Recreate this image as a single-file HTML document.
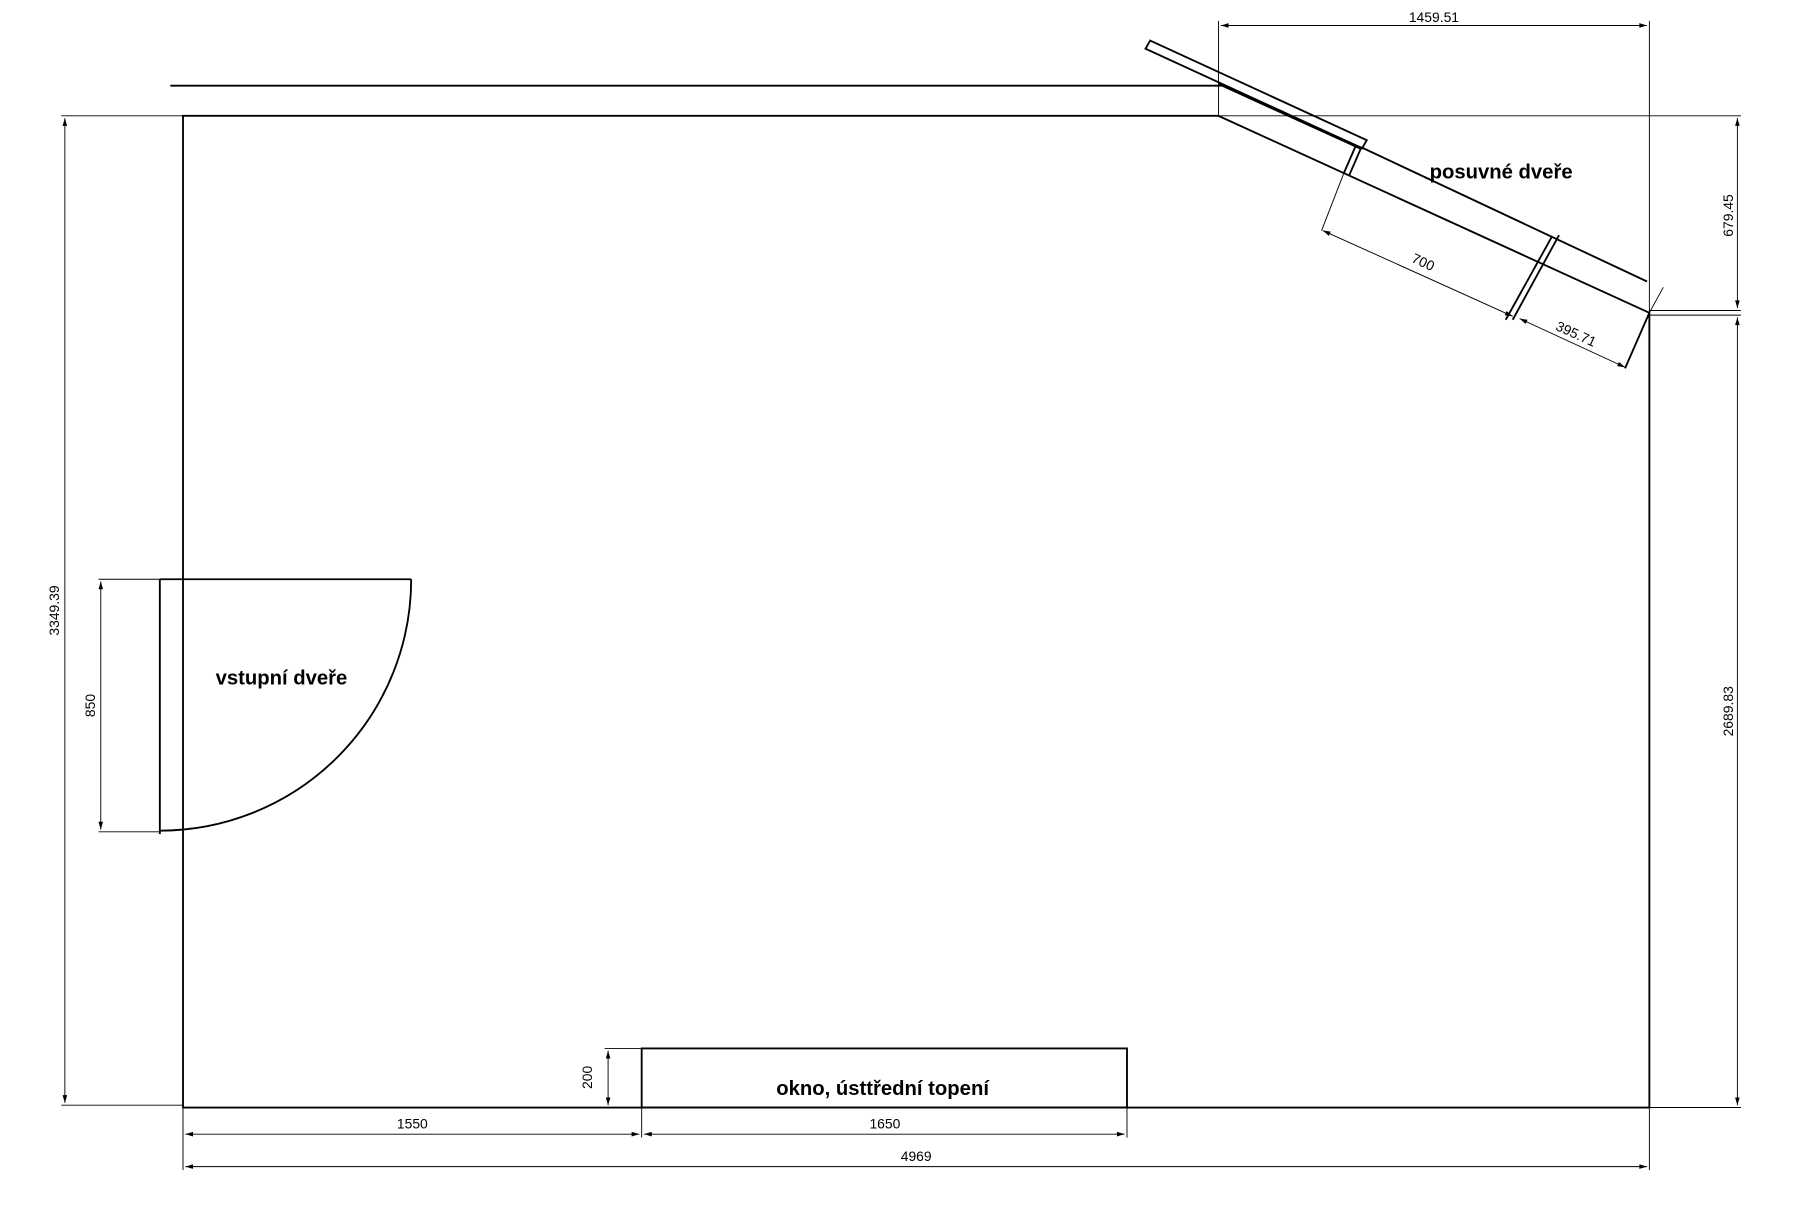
<!DOCTYPE html>
<html><head><meta charset="utf-8"><style>html,body{margin:0;padding:0;background:#fff}svg{display:block}</style></head>
<body>
<svg width="1815" height="1228" viewBox="0 0 1567 1060" preserveAspectRatio="none" xmlns="http://www.w3.org/2000/svg">
<defs>
<marker id="a" viewBox="0 0 10 6" refX="10" refY="3" markerWidth="8" markerHeight="4" orient="auto-start-reverse" markerUnits="userSpaceOnUse"><path d="M0,0 L10,3 L0,6 z" fill="#000"/></marker>
</defs>
<g fill="none" stroke="#000">
<g stroke-width="1.6">
<line x1="147" y1="74" x2="1055" y2="74"/>
<polyline points="1052,100 158,100 158,956 1424,956 1424,270 1052,100"/>
<line x1="1175" y1="127" x2="1422" y2="243"/>
<polygon points="993,35 1180,121 1176,128 989,42"/>
<line x1="1052" y1="72" x2="1175" y2="128" stroke-width="2.6"/>
<line x1="1170" y1="127" x2="1160" y2="150"/>
<line x1="1175" y1="128" x2="1165" y2="151"/>
<line x1="1346" y1="203" x2="1306" y2="276"/>
<line x1="1340" y1="204" x2="1300" y2="276"/>
<line x1="1424" y1="270" x2="1403" y2="318"/>
<line x1="138" y1="500" x2="355" y2="500"/>
<line x1="138" y1="500" x2="138" y2="720"/>
<path d="M355,500 A217,217 0 0 1 138,717"/>
<rect x="554" y="905" width="419" height="51"/>
</g>
<g stroke-width="0.8">
<line x1="1052" y1="18" x2="1052" y2="100"/>
<line x1="1424" y1="18" x2="1424" y2="270"/>
<line x1="1054" y1="22" x2="1422" y2="22" marker-start="url(#a)" marker-end="url(#a)"/>
<line x1="1052" y1="100" x2="1503" y2="100"/>
<line x1="1424" y1="268" x2="1503" y2="268"/>
<line x1="1424" y1="272" x2="1503" y2="272"/>
<line x1="1424" y1="956" x2="1503" y2="956"/>
<line x1="1500" y1="102" x2="1500" y2="266" marker-start="url(#a)" marker-end="url(#a)"/>
<line x1="1500" y1="274" x2="1500" y2="954" marker-start="url(#a)" marker-end="url(#a)"/>
<line x1="1424" y1="270" x2="1436" y2="248"/>
<line x1="1160" y1="150" x2="1141" y2="199"/>
<line x1="1142" y1="199" x2="1306" y2="273" marker-start="url(#a)" marker-end="url(#a)"/>
<line x1="1312" y1="275" x2="1403" y2="317" marker-start="url(#a)" marker-end="url(#a)"/>
<line x1="53" y1="100" x2="158" y2="100"/>
<line x1="53" y1="954" x2="158" y2="954"/>
<line x1="56" y1="102" x2="56" y2="952" marker-start="url(#a)" marker-end="url(#a)"/>
<line x1="85" y1="500" x2="138" y2="500"/>
<line x1="85" y1="718" x2="138" y2="718"/>
<line x1="87" y1="502" x2="87" y2="716" marker-start="url(#a)" marker-end="url(#a)"/>
<line x1="522" y1="905" x2="554" y2="905"/>
<line x1="525" y1="907" x2="525" y2="954" marker-start="url(#a)" marker-end="url(#a)"/>
<line x1="158" y1="956" x2="158" y2="1010"/>
<line x1="554" y1="956" x2="554" y2="982"/>
<line x1="973" y1="956" x2="973" y2="982"/>
<line x1="1424" y1="956" x2="1424" y2="1010"/>
<line x1="160" y1="979" x2="552" y2="979" marker-start="url(#a)" marker-end="url(#a)"/>
<line x1="556" y1="979" x2="971" y2="979" marker-start="url(#a)" marker-end="url(#a)"/>
<line x1="160" y1="1007" x2="1422" y2="1007" marker-start="url(#a)" marker-end="url(#a)"/>
</g>
</g>
<g font-family="Liberation Sans, sans-serif" font-size="12" fill="#000" text-anchor="middle">
<text x="1238" y="19">1459.51</text>
<text x="356" y="974">1550</text>
<text x="764" y="974">1650</text>
<text x="791" y="1002">4969</text>
<text transform="translate(1496,186) rotate(-90)">679.45</text>
<text transform="translate(1496,614) rotate(-90)">2689.83</text>
<text transform="translate(51,527) rotate(-90)">3349.39</text>
<text transform="translate(82,609) rotate(-90)">850</text>
<text transform="translate(511,930) rotate(-90)">200</text>
<text transform="translate(1227,230) rotate(24.5)">700</text>
<text transform="translate(1359,292) rotate(24.5)">395.71</text>
</g>
<g font-family="Liberation Sans, sans-serif" font-size="17.5" font-weight="bold" fill="#000" text-anchor="middle">
<text x="243" y="591">vstupní dveře</text>
<text x="1296" y="154">posuvné dveře</text>
<text x="762" y="945">okno, ústtřední topení</text>
</g>
</svg>
</body></html>
